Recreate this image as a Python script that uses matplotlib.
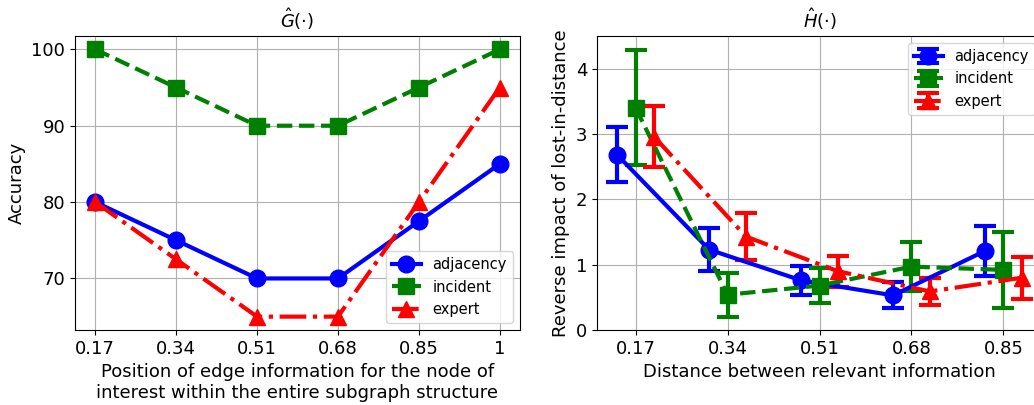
import matplotlib
matplotlib.use('Agg')
import matplotlib.pyplot as plt
import numpy as np

plt.rcParams.update({
    'font.size': 13,
    'axes.titlesize': 13,
    'legend.fontsize': 10.5,
})

# ---- left panel: accuracy by position ----
pos_labels = ["0.17", "0.34", "0.51", "0.68", "0.85", "1"]
acc_adjacency = [80, 75, 70, 70, 77.5, 85]
acc_incident = [100, 95, 90, 90, 95, 100]
acc_expert = [80, 72.5, 65, 65, 80, 95]

# ---- right panel: reverse impact vs distance ----
dist = [0.17, 0.34, 0.51, 0.68, 0.85]
imp_adjacency = [2.68, 1.23, 0.76, 0.53, 1.21]
err_adjacency = [0.42, 0.33, 0.22, 0.20, 0.38]
imp_incident = [3.40, 0.54, 0.68, 0.97, 0.92]
err_incident = [0.88, 0.34, 0.27, 0.38, 0.58]
imp_expert = [2.96, 1.43, 0.90, 0.59, 0.80]
err_expert = [0.47, 0.36, 0.24, 0.20, 0.32]

fig = plt.figure(figsize=(10.34, 4.05), dpi=100)
ax1 = fig.add_axes([75/1034, 75/405, 445/1034, 294/405])
ax2 = fig.add_axes([597/1034, 75/405, 445/1034, 294/405])

x = np.arange(len(pos_labels))
ax1.plot(x, acc_adjacency, '-o', color='blue', lw=3, ms=12, label='adjacency')
ax1.plot(x, acc_incident, '--s', color='green', lw=3, ms=12, label='incident')
ax1.plot(x, acc_expert, '-.^', color='red', lw=3, ms=12, label='expert')
ax1.set_xticks(x)
ax1.set_xticklabels(pos_labels)
ax1.set_yticks([70, 80, 90, 100])
ax1.set_ylabel("Accuracy")
ax1.set_xlabel("Position of edge information for the node of\ninterest within the entire subgraph structure")
ax1.set_title(r"$\hat{G}(\cdot)$")
ax1.grid(True)
ax1.legend(loc='lower right')

off = 0.034
d = np.array(dist)
ax2.errorbar(d - off, imp_adjacency, yerr=err_adjacency, fmt='-o', color='blue',
             lw=3, ms=12, capsize=8, elinewidth=3, capthick=3, label='adjacency')
ax2.errorbar(d, imp_incident, yerr=err_incident, fmt='--s', color='green',
             lw=3, ms=12, capsize=8, elinewidth=3, capthick=3, label='incident')
ax2.errorbar(d + off, imp_expert, yerr=err_expert, fmt='-.^', color='red',
             lw=3, ms=12, capsize=8, elinewidth=3, capthick=3, label='expert')
ax2.set_xticks(dist)
ax2.set_xticklabels([f"{v:.2f}" for v in dist])
ax2.set_ylim(0, 4.5)
ax2.set_yticks([0, 1, 2, 3, 4])
ax2.set_xlabel("Distance between relevant information")
ax2.set_ylabel("Reverse impact of lost-in-distance")
ax2.set_title(r"$\hat{H}(\cdot)$")
ax2.grid(True)
ax2.legend(loc='upper right')

fig.savefig("out.png", dpi=100)
